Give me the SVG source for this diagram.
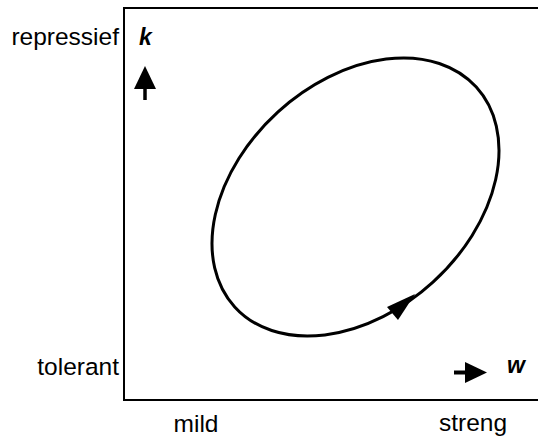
<svg xmlns="http://www.w3.org/2000/svg" width="539" height="439" viewBox="0 0 539 439">
<style>
.lbl{font-family:"Liberation Sans",Arial,sans-serif;font-size:24.5px;fill:#000}
.var{font-family:"Liberation Sans",Arial,sans-serif;font-size:23px;font-weight:bold;font-style:italic;fill:#000}
.ln{stroke:#000;fill:none}
</style>
<rect width="539" height="439" fill="#fff"/>
<g id="frame">
<path class="ln" d="M538 8 H124 V400 H538" stroke-width="2"/>
</g>
<g id="labels">
<text class="lbl" x="119" y="45" text-anchor="end">repressief</text>
<text class="lbl" x="119" y="375" text-anchor="end">tolerant</text>
<text class="lbl" x="196" y="432" text-anchor="middle">mild</text>
<text class="lbl" x="473" y="431" text-anchor="middle">streng</text>
<text class="var" x="139" y="45">k</text>
<text class="var" x="507" y="373">w</text>
</g>
<g id="axis-arrows">
<line class="ln" x1="145" y1="88" x2="145" y2="100" stroke-width="3.5"/>
<polygon points="145,66 156,89 134,89" fill="#000"/>
<line class="ln" x1="454" y1="372.5" x2="466" y2="372.5" stroke-width="4"/>
<polygon points="487,372.5 465,362 465,383" fill="#000"/>
</g>
<g id="cycle">
<ellipse class="ln" cx="355.5" cy="197" rx="163.3" ry="115.1" transform="rotate(-42.3 355.5 197)" stroke-width="3"/>
<polygon points="415,294 387,307 398,320" fill="#000"/>
</g>
</svg>
